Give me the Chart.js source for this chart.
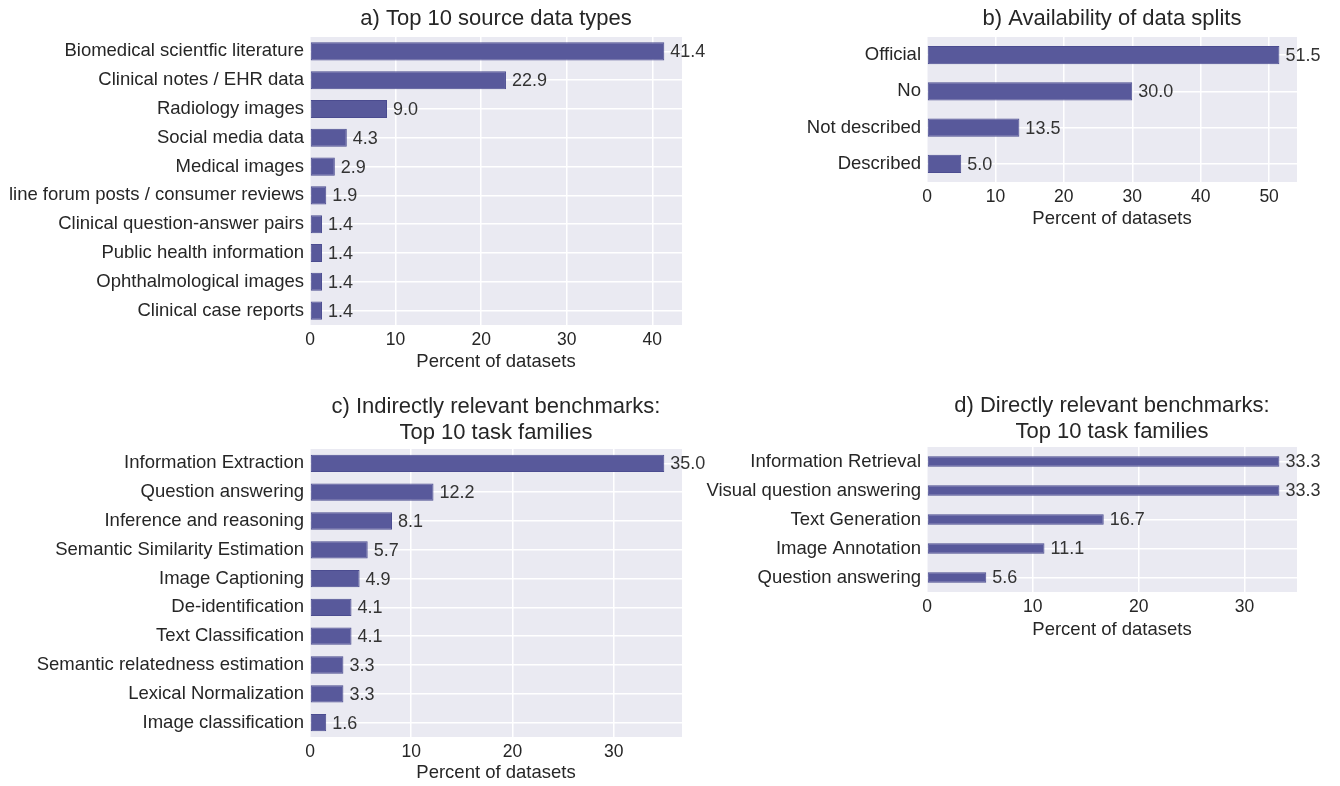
<!DOCTYPE html>
<html>
<head>
<meta charset="utf-8">
<script src="https://cdn.jsdelivr.net/npm/chart.js@4.4.1/dist/chart.umd.min.js"></script>
<style>
  html, body { margin: 0; padding: 0; background: #fff; }
  body { width: 1340px; height: 786px; position: relative; overflow: hidden; }
  .panel { position: absolute; }
</style>
</head>
<body>
<div class="panel" style="left:0;top:0;width:760px;height:380px"><canvas id="chartA"></canvas></div>
<div class="panel" style="left:700px;top:0;width:640px;height:240px"><canvas id="chartB"></canvas></div>
<div class="panel" style="left:0;top:388px;width:760px;height:398px"><canvas id="chartC"></canvas></div>
<div class="panel" style="left:700px;top:388px;width:640px;height:260px"><canvas id="chartD"></canvas></div>
<script>
// a) source data types
const sourceLabels = ['Biomedical scientfic literature', 'Clinical notes / EHR data', 'Radiology images',
  'Social media data', 'Medical images', 'line forum posts / consumer reviews',
  'Clinical question-answer pairs', 'Public health information', 'Ophthalmological images', 'Clinical case reports'];
const sourceValues = [41.4, 22.9, 9.0, 4.3, 2.9, 1.9, 1.4, 1.4, 1.4, 1.4];
const sourceTicks = [0, 10, 20, 30, 40];

// b) data splits
const splitLabels = ['Official', 'No', 'Not described', 'Described'];
const splitValues = [51.5, 30.0, 13.5, 5.0];
const splitTicks = [0, 10, 20, 30, 40, 50];

// c) indirectly relevant task families
const indirectLabels = ['Information Extraction', 'Question answering', 'Inference and reasoning',
  'Semantic Similarity Estimation', 'Image Captioning', 'De-identification', 'Text Classification',
  'Semantic relatedness estimation', 'Lexical Normalization', 'Image classification'];
const indirectValues = [35.0, 12.2, 8.1, 5.7, 4.9, 4.1, 4.1, 3.3, 3.3, 1.6];
const indirectTicks = [0, 10, 20, 30];

// d) directly relevant task families
const directLabels = ['Information Retrieval', 'Visual question answering', 'Text Generation',
  'Image Annotation', 'Question answering'];
const directValues = [33.3, 33.3, 16.7, 11.1, 5.6];
const directTicks = [0, 10, 20, 30];

const FONT = "'Liberation Sans', Arial, sans-serif";
const TEXT = '#262626';

// seaborn-like grey plot background
const plotBg = {
  id: 'plotBg',
  beforeDraw(chart) {
    const { ctx, chartArea: a } = chart;
    ctx.save();
    ctx.fillStyle = '#eaeaf2';
    ctx.fillRect(a.left, a.top, a.right - a.left, a.bottom - a.top);
    ctx.restore();
  }
};

// title centred over the plot area (matplotlib style), not the whole canvas
const panelTitle = {
  id: 'panelTitle',
  afterDraw(chart, args, opts) {
    const { ctx, chartArea: a } = chart;
    ctx.save();
    ctx.font = '22px ' + FONT;
    ctx.fillStyle = TEXT;
    ctx.textAlign = 'center';
    ctx.textBaseline = 'middle';
    opts.lines.forEach((t, i) => {
      ctx.fillText(t, (a.left + a.right) / 2, opts.y0 + i * opts.step);
    });
    ctx.restore();
  }
};

// value labels at the end of each bar
const barValues = {
  id: 'barValues',
  afterDatasetsDraw(chart) {
    const { ctx } = chart;
    const meta = chart.getDatasetMeta(0);
    const data = chart.data.datasets[0].data;
    ctx.save();
    ctx.font = '18px ' + FONT;
    ctx.fillStyle = '#333333';
    ctx.textAlign = 'left';
    ctx.textBaseline = 'middle';
    meta.data.forEach((bar, i) => {
      ctx.fillText(data[i].toFixed(1), bar.x + 6, bar.y + 1);
    });
    ctx.restore();
  }
};

function makeChart(id, opt) {
  const ctx = document.getElementById(id).getContext('2d');
  return new Chart(ctx, {
    type: 'bar',
    data: {
      labels: opt.labels,
      datasets: [{
        data: opt.values,
        backgroundColor: '#58599b',
        borderColor: '#4b4c90',
        borderWidth: 1,
        borderSkipped: false,
        barPercentage: opt.barPct,
        categoryPercentage: 1
      }]
    },
    plugins: [plotBg, barValues, panelTitle],
    options: {
      indexAxis: 'y',
      responsive: true,
      maintainAspectRatio: false,
      animation: false,
      layout: { padding: { left: 0, right: opt.padRight, top: opt.padTop, bottom: 0 } },
      plugins: {
        legend: { display: false },
        tooltip: { enabled: false },
        title: { display: false },
        panelTitle: { lines: opt.title, y0: opt.titleY, step: 25.5 }
      },
      scales: {
        x: {
          min: 0,
          max: Math.max(...opt.values) * 1.05,
          afterBuildTicks: (s) => { s.ticks = opt.ticks.map(v => ({ value: v })); },
          afterFit: (s) => { s.height = opt.xHeight; },
          border: { display: false },
          grid: { color: '#ffffff', lineWidth: 1.5, drawTicks: false },
          ticks: { color: TEXT, padding: 5, font: { family: FONT, size: 17.5 } },
          title: {
            display: true,
            text: 'Percent of datasets',
            color: TEXT,
            font: { family: FONT, size: 18.5 },
            padding: { top: 0, bottom: opt.xTitlePad }
          }
        },
        y: {
          afterFit: (s) => { s.width = opt.yWidth; },
          border: { display: false },
          grid: { color: '#ffffff', lineWidth: 1.5, drawTicks: false, offset: false },
          ticks: { color: TEXT, padding: 6, autoSkip: false, font: { family: FONT, size: 18.5 } }
        }
      }
    }
  });
}

makeChart('chartA', {
  title: ['a) Top 10 source data types'],
  labels: sourceLabels, values: sourceValues, ticks: sourceTicks,
  barPct: 0.63, yWidth: 310, xHeight: 55, padRight: 78, padTop: 37, titleY: 19, xTitlePad: 7
});
makeChart('chartB', {
  title: ['b) Availability of data splits'],
  labels: splitLabels, values: splitValues, ticks: splitTicks,
  barPct: 0.5, yWidth: 227, xHeight: 58, padRight: 43, padTop: 37, titleY: 19, xTitlePad: 10
});
makeChart('chartC', {
  title: ['c) Indirectly relevant benchmarks:', 'Top 10 task families'],
  labels: indirectLabels, values: indirectValues, ticks: indirectTicks,
  barPct: 0.6, yWidth: 310, xHeight: 49, padRight: 78, padTop: 61, titleY: 19, xTitlePad: 2
});
makeChart('chartD', {
  title: ['d) Directly relevant benchmarks:', 'Top 10 task families'],
  labels: directLabels, values: directValues, ticks: directTicks,
  barPct: 0.37, yWidth: 227, xHeight: 56, padRight: 43, padTop: 59, titleY: 18, xTitlePad: 7
});
</script>
</body>
</html>
